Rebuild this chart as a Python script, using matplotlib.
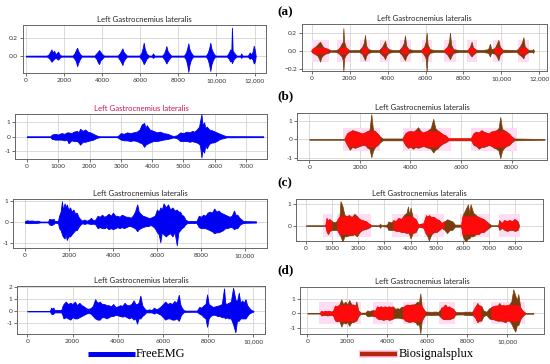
import numpy as np
import matplotlib
matplotlib.use("Agg")
import matplotlib.pyplot as plt
from matplotlib.lines import Line2D

# ---------------- data (envelopes) ----------------
# Left (a) FreeEMG
la_x = [0, 1100, 1200, 1280, 1345, 1400, 1480, 1560, 1640, 1695, 1760, 1850,
        2450, 2550, 2630, 2690, 2740, 2820, 2920,
        3600, 3700, 3780, 3843, 3900, 3990, 4100,
        4820, 4920, 5000, 5066, 5120, 5200, 5300,
        5950, 6050, 6130, 6184, 6240, 6330, 6450, 6600, 6673, 6750,
        7150, 7250, 7320, 7372, 7430, 7520, 7620,
        8300, 8400, 8470, 8525, 8580, 8660, 8780,
        9450, 9550, 9620, 9678, 9740, 9820, 9930,
        10550, 10650, 10726, 10780, 10813, 10850, 10920, 11050,
        11250, 11300, 11360, 11650, 11740, 11820, 11900, 11960, 12000, 12040, 12060]
la_hi = [.005, .006, .02, .05, .075, .04, .06, .02, .04, .05, .02, .006,
         .006, .03, .07, .094, .06, .03, .006,
         .006, .03, .05, .068, .05, .025, .006,
         .006, .03, .06, .087, .05, .03, .006,
         .006, .03, .09, .15, .08, .03, .006, .006, .03, .006,
         .006, .03, .07, .113, .06, .03, .006,
         .006, .04, .09, .143, .08, .04, .006,
         .006, .04, .09, .15, .08, .04, .006,
         .006, .04, .075, .05, .32, .06, .04, .006,
         .006, .03, .006, .006, .04, .02, .05, .117, .08, .03, .0]
la_lo = [-.005, -.006, -.02, -.04, -.064, -.05, -.03, -.02, -.03, -.04, -.02, -.006,
         -.006, -.03, -.06, -.113, -.08, -.04, -.006,
         -.006, -.03, -.07, -.09, -.05, -.03, -.006,
         -.006, -.04, -.07, -.10, -.06, -.03, -.006,
         -.006, -.03, -.06, -.09, -.07, -.03, -.006, -.006, -.02, -.006,
         -.006, -.03, -.06, -.083, -.06, -.03, -.006,
         -.006, -.04, -.10, -.177, -.10, -.04, -.006,
         -.006, -.04, -.10, -.166, -.09, -.04, -.006,
         -.006, -.03, -.06, -.05, -.08, -.06, -.03, -.006,
         -.006, -.02, -.006, -.006, -.03, -.02, -.04, -.083, -.07, -.03, .0]

# Left (b)
lb_x = [0, 750, 800, 900, 1000, 1100, 1200, 1280, 1330, 1420, 1500, 1600, 1650, 1700,
        1780, 1860, 1940, 2020, 2120, 2230, 2330,
        2880, 2930, 3000, 3100, 3200, 3300, 3400, 3510, 3600, 3670, 3745, 3790, 3830,
        3920, 4040, 4150, 4250, 4360, 4500, 4600, 4680,
        4790, 4900, 5000, 5100, 5210, 5270, 5350, 5430, 5500, 5530, 5575, 5610, 5660,
        5700, 5745, 5820, 5900, 5960, 6060, 6170, 6280, 6380, 7550]
lb_hi = [.03, .03, .15, .2, .15, .25, .2, .3, .3, .25, .35, .4, .3, .55,
         .4, .5, .35, .3, .2, .08, .03,
         .03, .1, .25, .2, .3, .25, .3, .35, .5, .85, .95, .6, .8,
         .5, .4, .3, .35, .25, .2, .1, .05,
         .1, .3, .25, .35, .3, .4, .35, .5, .7, 1.05, 1.55, .8, 1.0,
         .6, .7, .5, .45, .4, .3, .2, .1, .04, .03]
lb_lo = [-.03, -.03, -.15, -.2, -.2, -.2, -.25, -.2, -.45, -.25, -.3, -.3, -.4, -.55,
         -.35, -.35, -.3, -.25, -.2, -.08, -.03,
         -.03, -.1, -.2, -.25, -.25, -.3, -.25, -.3, -.4, -.45, -.7, -.55, -.5,
         -.4, -.3, -.3, -.25, -.2, -.15, -.1, -.05,
         -.1, -.3, -.3, -.3, -.35, -.3, -.35, -.4, -.5, -.6, -1.43, -.9, -1.1,
         -.6, -.8, -.5, -.4, -.4, -.3, -.15, -.1, -.04, -.03]

# Left (c)
lc_x = [0, 100, 200, 300, 450, 600, 700, 1050, 1100, 1200, 1300, 1350, 1500, 1550, 1620,
        1680, 1720, 1800, 1850, 1900, 1970, 2050, 2120, 2200, 2280, 2350, 2430, 2500,
        2600, 2700, 2800, 2900, 3000, 3100, 3200, 3300, 3400, 3500, 3600, 3700, 3800,
        3900, 4000, 4100, 4200, 4300, 4400, 4500, 4600, 4700, 4800, 4900, 5000, 5100,
        5170, 5250, 5350, 5500, 5600, 5700, 5800, 5900, 6000, 6080, 6150, 6220, 6300,
        6400, 6500, 6600, 6700, 6800, 6900, 6970, 7050, 7120, 7200, 7300, 7400, 7800,
        7900, 8000, 8100, 8200, 8300, 8400, 8500, 8600, 8700, 8800, 8900, 9000, 9100,
        9200, 9300, 9400, 9500, 9570, 9650, 9750, 9800, 9900, 10000, 10500]
lc_hi = [.05, .08, .06, .07, .05, .06, .02, .02, .15, .12, .15, .04, .05, .3, .5,
         1.0, .6, .9, .7, .85, .6, .7, .5, .6, .4, .45, .25, .15,
         .06, .12, .06, .1, .2, .08, .12, .3, .25, .35, .25, .3, .4,
         .3, .45, .3, .3, .25, .35, .3, .25, .25, .2, .3, .5, .85,
         .5, .4, .3, .25, .2, .2, .25, .3, .6, .5, .7, .6, .9,
         .7, .85, .6, .7, .55, .6, .5, .5, .35, .3, .1, .05, .05,
         .3, .25, .35, .3, .45, .5, .45, .65, .5, .55, .45, .4, .35,
         .3, .25, .3, .55, .35, .35, .2, .15, .06, .04, .03]
lc_lo = [-.05, -.05, -.06, -.05, -.05, -.04, -.02, -.02, -.12, -.15, -.1, -.04, -.05, -.3, -.4,
         -.6, -.7, -.8, -.6, -.87, -.7, -.7, -.6, -.5, -.4, -.4, -.25, -.15,
         -.06, -.1, -.06, -.08, -.1, -.08, -.12, -.3, -.25, -.3, -.3, -.25, -.35,
         -.3, -.35, -.3, -.25, -.3, -.25, -.3, -.25, -.2, -.2, -.25, -.3, -.45,
         -.35, -.3, -.25, -.2, -.2, -.15, -.2, -.3, -.5, -.6, -.98, -.5, -.6,
         -.7, -.6, -.55, -.7, -.5, -1.13, -.5, -.4, -.3, -.25, -.1, -.05, -.05,
         -.25, -.3, -.3, -.3, -.35, -.4, -.45, -.55, -.5, -.5, -.45, -.4, -.3,
         -.3, -.25, -.25, -.35, -.3, -.3, -.15, -.1, -.06, -.04, -.03]

# Left (d)
ld_x = [0, 1000, 1050, 1100, 1150, 1200, 1500, 1550, 1600, 1700, 1800, 1900, 2000, 2100,
        2200, 2300, 2400, 2500, 2600, 2700, 2800, 2900, 3000, 3100, 3200, 3300, 3400,
        3500, 3600, 3700, 3800, 3900, 4000, 4100, 4200, 4300, 4400, 4500, 4600, 4700,
        4780, 4850, 4920, 5000, 5080, 5150, 5250, 5400, 5500, 5600, 5700, 5800, 5900,
        6000, 6100, 6200, 6300, 6400, 6500, 6600, 6700, 6760, 6800, 6900, 7000, 7500,
        7600, 7700, 7800, 7880, 7950, 8020, 8100, 8200, 8300, 8400, 8500, 8600, 8700,
        8750, 8800, 8900, 9000, 9100, 9200, 9270, 9350, 9420, 9500, 9570, 9650, 9720,
        9800, 9900, 10000]
ld_hi = [.02, .02, .3, .2, .3, .1, .1, .4, .6, .8, .6, .7, .6, .8,
         .5, .7, .5, .4, .25, .2, .25, .45, 1.0, .7, .8, .6, .6,
         .5, .5, .4, .6, .35, .4, .5, .45, .7, .5, .5, .6, .9,
         .6, .6, .7, 1.3, .5, .3, .1, .15, .1, .3, .15, .25, .4,
         .6, .8, .6, .7, .6, .85, .7, 1.37, .6, .4, .1, .05, .05,
         .35, .3, .5, .6, 1.4, .6, .5, .35, .4, .45, .5, .6, 1.9,
         .7, .6, .7, .8, 1.95, 1.0, .8, 1.54, .7, .9, .7, 1.0, .5,
         .3, .1, .03]
ld_lo = [-.02, -.02, -.2, -.25, -.2, -.1, -.1, -.3, -.6, -.5, -.6, -.7, -.5, -.6,
         -.6, -.5, -.4, -.3, -.2, -.15, -.2, -.4, -.6, -.7, -.7, -.5, -.5,
         -.6, -.5, -.4, -.4, -.3, -.35, -.4, -.45, -.4, -.5, -.6, -.5, -.7,
         -.6, -1.04, -.6, -.6, -.4, -.3, -.1, -.1, -.1, -.2, -.1, -.2, -.3,
         -.5, -.7, -.6, -.6, -.7, -.7, -.6, -.8, -.5, -.3, -.1, -.05, -.05,
         -.2, -.3, -.5, -.6, -1.3, -.6, -.4, -.3, -.3, -.4, -.4, -.5, -.5,
         -.6, -.5, -.6, -.6, -1.1, -1.76, -.8, -.8, -.6, -.6, -.6, -.6, -.4,
         -.2, -.1, -.03]

# Right (a) Biosignalsplux
ra_x = [0, 50, 150, 300, 380, 440, 500, 580, 700, 880, 1000, 1300, 1450, 1580, 1640, 1670,
        1710, 1800, 1930, 2100, 2500, 2650, 2750, 2810, 2870, 2980, 3200, 3550, 3700,
        3800, 3865, 3930, 4050, 4300, 4600, 4750, 4860, 4920, 4980, 5100, 5400, 5800,
        5920, 6010, 6060, 6110, 6220, 6500, 7000, 7150, 7240, 7290, 7350, 7460, 7800,
        8250, 8350, 8430, 8500, 8650, 9000, 9300, 9400, 9460, 9650, 9760, 9840, 9920,
        10050, 10800, 10950, 11080, 11160, 11230, 11400, 11600, 11680, 11720]
ra_hi = [.008, .02, .04, .07, .09, .10, .08, .05, .03, .02, .008, .01, .03, .08, .1, .25,
         .1, .04, .015, .01, .01, .04, .09, .175, .06, .02, .01, .01, .04,
         .08, .11, .05, .02, .01, .01, .04, .09, .17, .06, .02, .01, .01,
         .04, .1, .2, .07, .02, .01, .01, .05, .1, .2, .07, .02, .01,
         .01, .05, .1, .04, .015, .01, .02, .08, .02, .03, .08, .12, .05,
         .015, .01, .04, .09, .15, .05, .015, .01, .02, .0]
ra_lo = [-.008, -.02, -.03, -.05, -.08, -.116, -.07, -.05, -.03, -.02, -.008, -.01, -.03, -.06, -.1, -.225,
         -.08, -.04, -.015, -.01, -.01, -.03, -.07, -.1, -.05, -.02, -.01, -.01, -.04,
         -.06, -.09, -.05, -.02, -.01, -.01, -.04, -.08, -.1, -.06, -.02, -.01, -.01,
         -.04, -.08, -.22, -.06, -.02, -.01, -.01, -.04, -.07, -.09, -.06, -.02, -.01,
         -.01, -.04, -.06, -.04, -.015, -.01, -.02, -.06, -.02, -.03, -.06, -.1, -.04,
         -.015, -.01, -.04, -.06, -.08, -.04, -.015, -.01, -.02, .0]
ra_bands = [(0, 900), (1350, 2000), (2550, 3050), (3600, 4150), (4650, 5250),
            (5800, 6350), (7000, 7600), (8200, 8700), (9550, 10100), (10850, 11450)]

# Right (b)
rb_x = [0, 1400, 1500, 1600, 1700, 1800, 1900, 2000, 2100, 2200, 2300, 2380, 2450, 2520,
        2600, 2700, 2800, 2900, 3700, 3800, 3900, 4000, 4100, 4200, 4300, 4400, 4500,
        4600, 4700, 4800, 4900, 4980, 5050, 5150, 5300, 5400, 5500, 6400, 6500, 6600,
        6700, 6800, 6900, 7000, 7100, 7200, 7300, 7400, 7480, 7550, 7620, 7700, 7800,
        7900, 8000, 8100, 9300]
rb_hi = [.02, .02, .3, .4, .5, .45, .4, .35, .3, .35, .45, .5, 1.35, .5,
         .45, .3, .15, .05, .05, .3, .4, .45, .4, .5, .65, .45, .35,
         .4, .5, .6, 1.1, .6, .5, .4, .25, .2, .05, .05, .3, .4,
         .35, .5, .4, .35, .3, .4, .45, .5, .6, 1.2, .55, .5, .4,
         .3, .15, .05, .02]
rb_lo = [-.02, -.02, -.3, -.55, -.4, -.45, -.4, -.35, -.3, -.3, -.45, -.5, -.95, -.6,
         -.4, -.3, -.15, -.05, -.05, -.3, -.45, -.4, -.5, -.4, -.45, -.4, -.35,
         -.4, -.45, -.5, -.7, -.55, -.5, -.35, -.2, -.15, -.05, -.05, -.3, -.35,
         -.5, -.4, -.4, -.35, -.3, -.35, -.45, -.5, -.6, -1.0, -.6, -.45, -.35,
         -.3, -.15, -.05, -.02]
rb_bands = [(1350, 2800), (3700, 5600), (6400, 8200)]

# Right (c)
rc_x = [0, 750, 800, 850, 900, 1000, 1100, 1200, 1280, 1320, 1400, 1470, 1550, 1650, 1750,
        1850, 1950, 2050, 2150, 2300, 2400, 2500, 2800, 2830, 2880, 3100, 3150, 3250, 3350,
        3450, 3550, 3650, 3750, 3850, 3900, 3950, 4000, 4080, 4200, 4300, 4500, 4600, 4650,
        4700, 4800, 4900, 5000, 5100, 5200, 5300, 5400, 5500, 5600, 5700, 5950, 6000, 6100,
        6200, 6250, 6300, 6400, 6500, 6600, 6700, 6800, 6900, 7000, 7100, 7350, 7400, 7500,
        7600, 7700, 7800, 7900, 8000, 8100, 8150]
rc_hi = [.02, .02, .35, .2, .3, .2, .15, .25, .4, 1.15, .9, .5, .45, .5, .4,
         .55, .45, .3, .25, .2, .1, .02, .02, .1, .02, .05, .2, .15, .25,
         .2, .35, .3, .5, .6, .9, .5, .85, .4, .3, .05, .1, .5, .4,
         .5, .4, .4, .3, .25, .1, .2, .3, .25, .2, .05, .05, .5, .75,
         1.0, .6, 1.0, .6, .5, .4, .35, .3, .2, .1, .02, .02, .25, .1,
         .25, .2, .25, .2, .3, .2, .03]
rc_lo = [-.02, -.02, -.3, -.4, -.25, -.2, -.2, -.2, -.4, -.5, -.75, -.5, -.5, -.45, -.45,
         -.4, -.5, -.3, -.2, -.15, -.1, -.02, -.02, -.1, -.02, -.05, -.2, -.2, -.2,
         -.25, -.25, -.3, -.3, -.35, -.3, -.4, -.6, -.35, -.3, -.05, -.1, -.4, -.5,
         -.7, -.4, -.3, -.3, -.2, -.1, -.2, -.35, -.2, -.2, -.05, -.05, -.5, -.75,
         -.6, -.6, -.5, -.5, -.4, -.4, -.3, -.3, -.2, -.1, -.02, -.02, -.2, -.1,
         -.2, -.25, -.2, -.2, -.25, -.2, -.03]
rc_bands = [(650, 1000), (1200, 2500), (3300, 4300), (4500, 5300), (5900, 7000), (7400, 8200)]

# Right (d)
rd_x = [0, 650, 700, 800, 900, 1000, 1100, 1200, 1300, 1400, 1500, 1600, 1700, 1800, 1900,
        2000, 2100, 2200, 2300, 2400, 2450, 2550, 2650, 2900, 3000, 3100, 3200, 3300, 3400,
        3500, 3600, 3700, 3800, 3900, 4000, 4100, 4200, 4300, 4400, 4500, 4600, 4700, 4800,
        4900, 5000, 5100, 5200, 5300, 5400, 5500, 5580, 5650, 5720, 5800, 5900, 6000, 6200,
        6400, 6550, 6700, 6800, 6900, 7000, 7100, 7200, 7300, 7400, 7500, 7800, 7900, 8000,
        8100, 8200, 8300, 8400, 8500, 8600, 8700, 8800, 8950, 9100, 9200, 9300, 9400, 9500,
        9600, 9700, 9800, 9900, 10000, 10100, 10200, 10300, 10400, 10480, 10550, 10650,
        10750, 10900, 11300]
rd_hi = [.02, .02, .15, .1, .15, .12, .15, .1, .15, .5, .45, .6, .94, .6, .8,
         .6, .9, .6, .6, .5, .8, .2, .05, .05, .2, .15, .2, .2, .15,
         .45, .4, .45, .4, .45, .4, .45, .4, .45, .3, .35, .3, .45, .4,
         .5, .6, .55, .6, .6, .65, .8, .7, 1.35, .5, .3, .12, .12, .1,
         .12, .1, .35, .4, .6, .4, .45, .35, .3, .1, .08, .08, .12, .1,
         .12, .1, .15, .4, .7, .5, .5, .2, .1, .35, .4, .45, .5, .5,
         .7, .5, .55, .5, .55, .6, .8, 1.62, 1.2, .9, 1.3, .4,
         .2, .03, .03]
rd_lo = [-.02, -.02, -.15, -.12, -.1, -.15, -.12, -.1, -.15, -.5, -.55, -.5, -.9, -.6, -.7,
         -.6, -.85, -.6, -.6, -.5, -.5, -.2, -.05, -.05, -.2, -.2, -.15, -.2, -.2,
         -.35, -.4, -.4, -.45, -.4, -.4, -.45, -.4, -.35, -.3, -.3, -.3, -.35, -.35,
         -.5, -.55, -.6, -.55, -.55, -.6, -.8, -.7, -1.35, -.5, -.3, -.12, -.1, -.12,
         -.1, -.1, -.3, -.4, -.4, -.4, -.4, -.35, -.3, -.1, -.08, -.08, -.12, -.1,
         -.12, -.12, -.15, -.3, -.6, -.5, -.5, -.2, -.1, -.35, -.4, -.4, -.45, -.5,
         -.5, -.5, -.55, -.6, -.5, -.5, -.7, -1.0, -1.24, -.8, -.8, -.4,
         -.2, -.03, -.03]
rd_bands = [(600, 2700), (3300, 4300), (4800, 5900), (6600, 7400), (8300, 8700), (9200, 10900)]

title_text = "Left Gastrocnemius lateralis"
panel_labels = ["(a)", "(b)", "(c)", "(d)"]
legend_labels = ["FreeEMG", "Biosignalsplux"]

# ---------------- styling ----------------
BLUE = "#0000f5"
BROWN = "#7a3c0c"
RED = "#ff0a0a"
PINK = "#ffdcf3"
FONT = ["Lato", "DejaVu Sans"]

fig = plt.figure(figsize=(5.5, 3.64), dpi=100)


def px(l, r, t, b):
    W, H = 550.0, 364.0
    return [l / W, 1 - b / H, (r - l) / W, (b - t) / H]


def style(ax, xlim, ylim, xt, yt, ylab=None, title_color="#222222"):
    ax.set_xlim(*xlim)
    ax.set_ylim(*ylim)
    ax.set_xticks(xt)
    ax.set_xticklabels([f"{int(v):,}" if v >= 10000 else f"{int(v)}" for v in xt])
    ax.set_yticks(yt)
    ax.set_yticklabels(ylab if ylab else [f"{v:g}" for v in yt])
    ax.grid(True, color="#d4d4d4", linewidth=0.6)
    ax.set_axisbelow(True)
    ax.tick_params(labelsize=4.6, length=2, width=0.5, pad=1.5, colors="#333333")
    for lab in ax.get_xticklabels() + ax.get_yticklabels():
        lab.set_fontfamily(FONT)
    for s in ax.spines.values():
        s.set_color("#666666")
        s.set_linewidth(0.7)
    ax.set_title(title_text, fontsize=5.6, pad=2.5, family=FONT, color=title_color)


def blue_signal(ax, x, hi, lo):
    ax.fill_between(x, lo, hi, color=BLUE, linewidth=0.6, edgecolor=BLUE, zorder=3)


def red_signal(ax, x, hi, lo, bands, band_h, core):
    for a, b in bands:
        ax.fill_between([a, b], [-band_h, -band_h], [band_h, band_h], color=PINK,
                        linewidth=0, zorder=1)
    ax.fill_between(x, lo, hi, color=BROWN, linewidth=0.5, edgecolor=BROWN, zorder=3)
    xa = np.asarray(x, dtype=float)
    inside = np.zeros(len(xa), dtype=bool)
    for a, b in bands:
        inside |= (xa >= a) & (xa <= b)
    hi_c = np.minimum(np.asarray(hi), core)
    lo_c = np.maximum(np.asarray(lo), -core)
    ax.fill_between(xa, lo_c, hi_c, where=inside, color=RED, linewidth=0.3,
                    edgecolor=RED, zorder=4)


# Left column
ax = fig.add_axes(px(23, 266, 25, 73))
blue_signal(ax, la_x, la_hi, la_lo)
style(ax, (-150, 12600), (-0.19, 0.35), list(range(0, 12001, 2000)), [0.0, 0.2], ["0.0", "0.2"])

ax = fig.add_axes(px(15, 267, 114, 159))
blue_signal(ax, lb_x, lb_hi, lb_lo)
style(ax, (-380, 7670), (-1.54, 1.57), list(range(0, 7001, 1000)), [-1, 0, 1],
      title_color="#d0104a")

ax = fig.add_axes(px(13, 267, 199, 248))
blue_signal(ax, lc_x, lc_hi, lc_lo)
style(ax, (-545, 11000), (-1.26, 1.11), list(range(0, 10001, 2000)), [-1, 0, 1])

ax = fig.add_axes(px(17, 265, 286, 334))
blue_signal(ax, ld_x, ld_hi, ld_lo)
style(ax, (-456, 10510), (-1.9, 2.1), list(range(0, 10001, 2000)), [-1, 0, 1, 2])

# Right column
ax = fig.add_axes(px(302, 547, 24, 71))
red_signal(ax, ra_x, ra_hi, ra_lo, ra_bands, 0.12, 0.035)
style(ax, (-511, 12405), (-0.218, 0.294), list(range(0, 12001, 2000)), [-0.2, 0.0, 0.2],
      ["\u22120.2", "0.0", "0.2"])

ax = fig.add_axes(px(297, 547, 113, 160))
red_signal(ax, rb_x, rb_hi, rb_lo, rb_bands, 0.6, 0.42)
style(ax, (-486, 9396), (-1.10, 1.41), list(range(0, 8001, 2000)), [-1, 0, 1])

ax = fig.add_axes(px(296, 543, 199, 241))
red_signal(ax, rc_x, rc_hi, rc_lo, rc_bands, 0.55, 0.42)
style(ax, (-383, 9071), (-0.72, 1.25), list(range(0, 8001, 1000)), [0, 1])

ax = fig.add_axes(px(300, 544, 287, 334))
red_signal(ax, rd_x, rd_hi, rd_lo, rd_bands, 0.75, 0.55)
style(ax, (-365, 11835), (-1.40, 1.78), list(range(0, 10001, 2000)), [-1, 0, 1])

# Panel labels
for lab, (xp, yp) in zip(panel_labels, [(277, 12), (277, 96), (277, 183), (277, 270)]):
    fig.text(xp / 550, 1 - yp / 364, lab, fontsize=9.5, fontweight="bold",
             family=["Liberation Serif", "DejaVu Serif"], va="center", ha="left")

# Legend
yl = 1 - 354 / 364
fig.add_artist(Line2D([88 / 550, 135 / 550], [yl, yl], color=BLUE, linewidth=3.6,
                      solid_capstyle="butt"))
fig.text(136 / 550, yl, legend_labels[0], fontsize=9, va="center", ha="left",
         family=["Liberation Serif", "DejaVu Serif"])
fig.add_artist(Line2D([359 / 550, 398 / 550], [yl, yl], color="#ffc2e6", linewidth=5.5,
                      solid_capstyle="butt"))
fig.add_artist(Line2D([360 / 550, 397 / 550], [yl, yl], color="#b5260f", linewidth=3.2,
                      solid_capstyle="butt"))
fig.text(399 / 550, yl, legend_labels[1], fontsize=9, va="center", ha="left",
         family=["Liberation Serif", "DejaVu Serif"])

fig.savefig("out.png", dpi=100)
